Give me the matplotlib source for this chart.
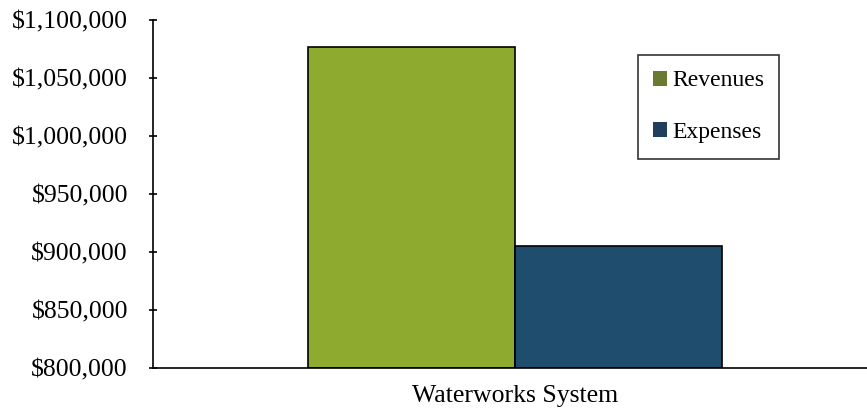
import matplotlib.pyplot as plt
from matplotlib.ticker import FuncFormatter
from matplotlib.patches import Patch

categories = ['Waterworks System']
series = ['Revenues', 'Expenses']
values = [1076500, 905000]
bar_colors = ['#8fab2f', '#1f4d6e']
legend_colors = ['#6b7a32', '#1f3f5c']

plt.rcParams['font.family'] = ['Liberation Serif', 'DejaVu Serif']

fig = plt.figure(figsize=(8.67, 4.12), dpi=100)
ax = fig.add_axes([153 / 867, 44 / 412, 714 / 867, 348 / 412])

w = 0.29
offsets = [-w / 2, w / 2]
for name, val, off, col in zip(series, values, offsets, bar_colors):
    ax.bar(off, val - 800000, bottom=800000, width=w, color=col,
           edgecolor='black', linewidth=1.2, label=name)

ax.set_ylim(800000, 1100000)
ax.set_xlim(-0.508, 0.494)
ax.set_yticks(range(800000, 1100001, 50000))
ax.yaxis.set_major_formatter(FuncFormatter(lambda v, p: '${:,.0f}'.format(v)))
ax.set_xticks([0])
ax.set_xticklabels(categories)
ax.tick_params(axis='x', length=0, labelsize=18.5, pad=12)
ax.tick_params(axis='y', direction='inout', length=6, width=1.2, labelsize=18.5, pad=15)

for s in ['top', 'right']:
    ax.spines[s].set_visible(False)
for s in ['left', 'bottom']:
    ax.spines[s].set_linewidth(1.2)

handles = [Patch(facecolor=c, edgecolor='none') for c in legend_colors]
leg = ax.legend(handles, series, loc='upper left', bbox_to_anchor=(0.679, 0.899),
                borderaxespad=0, fontsize=17, frameon=True, fancybox=False,
                handlelength=0.6, handleheight=0.6, handletextpad=0.2,
                labelspacing=1.3, borderpad=0.65)
leg.get_frame().set_edgecolor('black')
leg.get_frame().set_linewidth(1.2)

fig.savefig('out.png', dpi=100)
